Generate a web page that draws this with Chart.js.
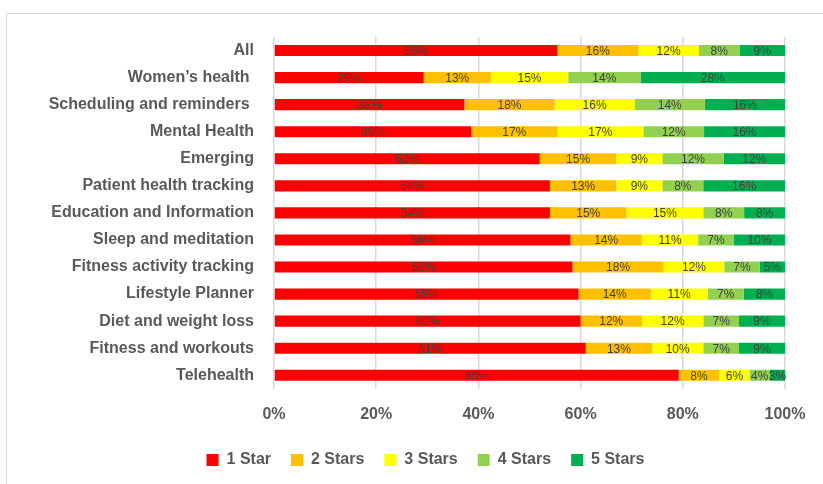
<!DOCTYPE html>
<html>
<head>
<meta charset="utf-8">
<script src="https://cdn.jsdelivr.net/npm/chart.js@4.4.1/dist/chart.umd.min.js"></script>
<style>
  html, body { margin: 0; padding: 0; background: #fff; }
  #wrap { position: relative; width: 823px; height: 484px; overflow: hidden; }
  #frame { position: absolute; left: 6px; top: 13px; width: 830px; height: 480px; border: 1px solid #d9d9d9; box-sizing: border-box; }
  #chart { position: absolute; left: 0; top: 0; }
</style>
</head>
<body>
<div id="wrap">
  <div id="frame"></div>
  <canvas id="chart" width="823" height="484"></canvas>
</div>
<script>
var categories = ['All', 'Women\u2019s health ', 'Scheduling and reminders ', 'Mental Health', 'Emerging',
  'Patient health tracking', 'Education and Information', 'Sleep and meditation', 'Fitness activity tracking',
  'Lifestyle Planner', 'Diet and weight loss', 'Fitness and workouts', 'Telehealth'];
var oneStar   = [56, 29, 38, 39, 52, 54, 54, 58, 59, 59, 60, 61, 80];
var twoStars  = [16, 13, 18, 17, 15, 13, 15, 14, 18, 14, 12, 13, 8];
var threeStars = [12, 15, 16, 17, 9, 9, 15, 11, 12, 11, 12, 10, 6];
var fourStars = [8, 14, 14, 12, 12, 8, 8, 7, 7, 7, 7, 7, 4];
var fiveStars = [9, 28, 16, 16, 12, 16, 8, 10, 5, 8, 9, 9, 3];
var seriesNames = ['1 Star', '2 Stars', '3 Stars', '4 Stars', '5 Stars'];
var seriesColors = ['#ff0000', '#ffc000', '#ffff00', '#92d050', '#00b050'];
var xTicks = ['0%', '20%', '40%', '60%', '80%', '100%'];

var series = [oneStar, twoStars, threeStars, fourStars, fiveStars];
// 100% stacked: scale each row to its own total
var totals = categories.map(function (c, i) {
  return series.reduce(function (s, arr) { return s + arr[i]; }, 0);
});

var labelPlugin = {
  id: 'segLabels',
  afterDatasetsDraw: function (chart) {
    var ctx = chart.ctx;
    ctx.save();
    ctx.font = '12px "Liberation Sans"';
    ctx.fillStyle = '#404040';
    ctx.textAlign = 'center';
    ctx.textBaseline = 'middle';
    chart.data.datasets.forEach(function (ds, di) {
      chart.getDatasetMeta(di).data.forEach(function (bar, i) {
        ctx.fillText(series[di][i] + '%', (bar.x + bar.base) / 2, bar.y + 1);
      });
    });
    ctx.restore();
  }
};

// nudge the legend so it sits where the original has it
var legendShift = {
  id: 'legendShift',
  afterLayout: function (chart) {
    var lg = chart.legend;
    lg.left += 23; lg.right += 23;
    lg.top -= 8; lg.bottom -= 8;
  }
};

new Chart(document.getElementById('chart'), {
  type: 'bar',
  data: {
    labels: categories,
    datasets: series.map(function (arr, k) {
      return {
        label: seriesNames[k],
        data: arr.map(function (v, i) { return v / totals[i] * 100; }),
        backgroundColor: seriesColors[k],
        borderWidth: 0,
        categoryPercentage: 1,
        barPercentage: 0.41
      };
    })
  },
  options: {
    responsive: false,
    animation: false,
    indexAxis: 'y',
    layout: { padding: { top: 37, left: 20, right: 38, bottom: -2 } },
    plugins: {
      tooltip: { enabled: false },
      legend: {
        position: 'bottom',
        labels: {
          boxWidth: 12, boxHeight: 12, padding: 20,
          color: '#595959',
          font: { family: 'Liberation Sans', size: 16, weight: 'bold' }
        }
      }
    },
    scales: {
      x: {
        stacked: true, min: 0, max: 100,
        ticks: {
          stepSize: 20, padding: 16, color: '#595959',
          font: { family: 'Liberation Sans', size: 16, weight: 'bold' },
          callback: function (v, i) { return xTicks[i]; }
        },
        grid: { color: '#d9d9d9', lineWidth: 1.5, drawTicks: false },
        border: { display: false }
      },
      y: {
        stacked: true,
        afterFit: function (scale) { scale.width = 254; },
        ticks: {
          padding: 20, color: '#595959',
          font: { family: 'Liberation Sans', size: 16, weight: 'bold' }
        },
        grid: { display: false, drawTicks: false },
        border: { display: false }
      }
    }
  },
  plugins: [labelPlugin, legendShift]
});
</script>
</body>
</html>
